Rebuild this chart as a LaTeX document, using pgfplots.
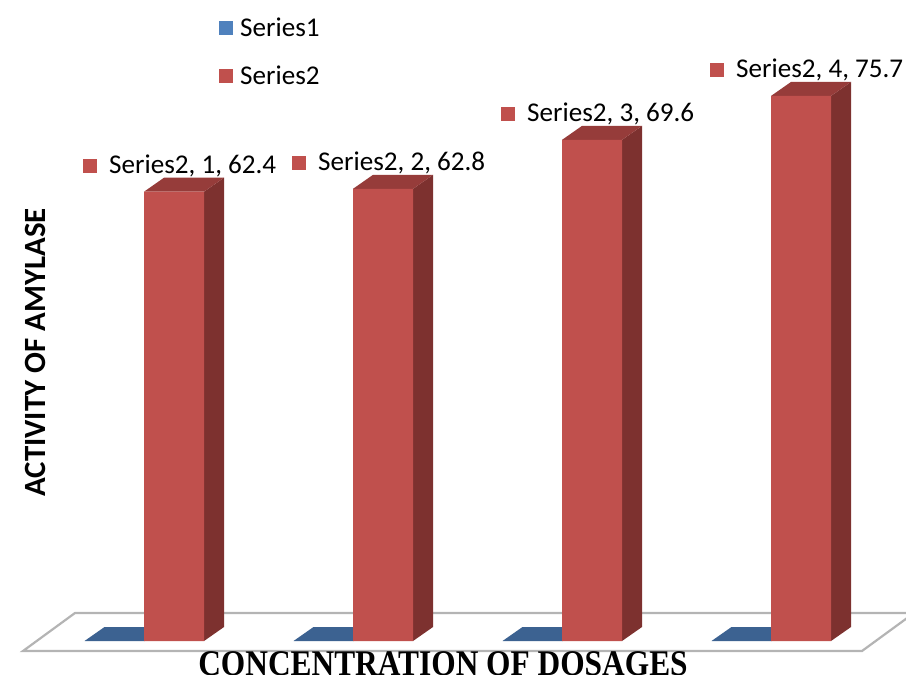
\documentclass[border=0pt]{standalone}
\usepackage{pgfplots}
\pgfplotsset{compat=1.18}
\usepackage{pgfplotstable}
\usepackage{fontspec}
\setmainfont{Carlito}
\newfontfamily\serifbold{Liberation Serif}
\definecolor{redFront}{HTML}{C0504D}
\definecolor{redSide}{HTML}{7D312F}
\definecolor{redTop}{HTML}{963C3A}
\definecolor{blueTop}{HTML}{3C6291}
\definecolor{blueLeg}{HTML}{4F81BD}
\definecolor{floorLine}{HTML}{B4B4B4}

\pgfplotstableread{
x s1 s2
1 0 62.4
2 0 62.8
3 0 69.6
4 0 75.7
}\datatable

\newcommand\bhw{0.14354}
\newcommand\dpx{0.09569}
\newcommand\dpy{1.944}
\newcommand\bshift{0.28469}

\begin{document}
\begin{tikzpicture}
\begin{axis}[
  scale only axis, width=906bp, height=675bp,
  xmin=0.16746, xmax=4.50239, ymin=-4.722, ymax=89.028,
  axis lines=none,
  /pgf/number format/assume math mode=true,
  legend image code/.code={\fill[#1, draw=none] (0bp,-7bp) rectangle (14bp,7bp);},
  legend style={at={(axis cs:1.2153,86.6)}, anchor=north west, draw=none, fill=none,
    inner sep=0pt, font=\fontsize{27.2}{32}\selectfont, row sep=28bp,
    nodes={inner sep=0pt}, column sep=7bp},
]
\addlegendimage{fill=blueLeg}
\addlegendentry{Series1}
\addlegendimage{fill=redFront}
\addlegendentry{Series2}

% floor
\addplot[forget plot, fill=white, draw=floorLine, line width=2.2bp]
  coordinates {(0.27751,-1.389) (4.29187,-1.389) (4.54067,3.889) (0.52632,3.889)} -- cycle;

% 3D faces
\pgfplotsinvokeforeach{0,1,2,3}{
  \pgfplotstablegetelem{#1}{x}\of\datatable \edef\cx{\pgfplotsretval}
  \pgfplotstablegetelem{#1}{s1}\of\datatable \edef\bv{\pgfplotsretval}
  \pgfplotstablegetelem{#1}{s2}\of\datatable \edef\rv{\pgfplotsretval}
  \pgfmathsetmacro\bl{\cx-\bshift-\bhw}
  \pgfmathsetmacro\br{\cx-\bshift+\bhw}
  \pgfmathsetmacro\blb{\bl+\dpx}
  \pgfmathsetmacro\brb{\br+\dpx}
  \pgfmathsetmacro\bvb{\bv+\dpy}
  \pgfmathsetmacro\rl{\cx-\bhw}
  \pgfmathsetmacro\rr{\cx+\bhw}
  \pgfmathsetmacro\rlb{\rl+\dpx}
  \pgfmathsetmacro\rrb{\rr+\dpx}
  \pgfmathsetmacro\rvb{\rv+\dpy}
  \edef\doit{%
    \noexpand\addplot[forget plot, fill=blueTop, draw=none]
      coordinates {(\bl,\bv) (\br,\bv) (\brb,\bvb) (\blb,\bvb)} -- cycle;
    \noexpand\addplot[forget plot, fill=redSide, draw=none]
      coordinates {(\rr,0) (\rrb,\dpy) (\rrb,\rvb) (\rr,\rv)} -- cycle;
    \noexpand\addplot[forget plot, fill=redTop, draw=none]
      coordinates {(\rl,\rv) (\rr,\rv) (\rrb,\rvb) (\rlb,\rvb)} -- cycle;
  }\doit
}

% front faces with data labels
\addplot[forget plot, ybar, bar width=60bp, bar shift=0pt, fill=redFront, draw=none,
  point meta=explicit symbolic,
  visualization depends on={rawy\as\yv},
  nodes near coords={\textcolor{redFront}{\rule[1bp]{14bp}{14bp}}\hspace{12bp}Series2, \pgfplotspointmeta, \pgfmathprintnumber[fixed, precision=1, fixed zerofill]{\yv}},
  every node near coord/.append style={anchor=base west, inner sep=0pt, xshift=-91bp, yshift=18bp,
    font=\fontsize{27.2}{32}\selectfont, text=black}]
  table[x=x, y=s2, meta=x]{\datatable};

\node[rotate=90, anchor=base, font=\fontsize{31}{36}\selectfont\bfseries]
  at (axis cs:0.38278,40.069) {ACTIVITY OF AMYLASE};
\node[anchor=base, inner sep=0pt, font=\serifbold\bfseries\fontsize{31.5}{36}\selectfont]
  at (axis cs:2.28708,-4.80) {\scalebox{1}[1.15]{CONCENTRATION OF DOSAGES}};
\end{axis}
\pgfresetboundingbox
\useasboundingbox (current axis.south west) rectangle (current axis.north east);
\end{tikzpicture}
\end{document}
